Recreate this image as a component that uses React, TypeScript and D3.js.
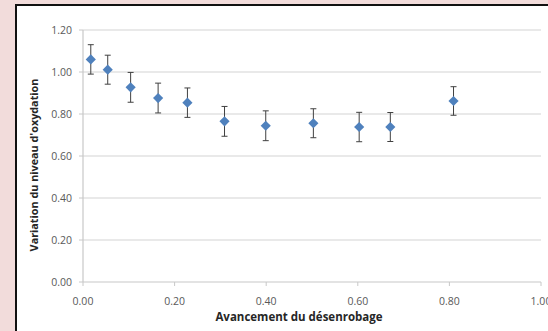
import React from "react";
import * as d3 from "d3";

const xValues = [0.017, 0.054, 0.104, 0.164, 0.228, 0.309, 0.399, 0.503, 0.603, 0.671, 0.809];
const yValues = [1.06, 1.011, 0.927, 0.876, 0.854, 0.765, 0.744, 0.756, 0.738, 0.738, 0.862];
const errValues = [0.07, 0.069, 0.071, 0.071, 0.07, 0.071, 0.071, 0.069, 0.07, 0.069, 0.068];
const xTicks = [0, 0.2, 0.4, 0.6, 0.8, 1.0];
const yTicks = [0, 0.2, 0.4, 0.6, 0.8, 1.0, 1.2];
const xTitle = "Avancement du désenrobage";
const yTitle = "Variation du niveau d'oxydation";

const W = 548;
const H = 331;

export default function App() {
  const x = d3.scaleLinear().domain([0, 1]).range([83, 541]);
  const y = d3.scaleLinear().domain([0, 1.2]).range([282, 30]);
  const fmt = d3.format(".2f");
  const diamond = d3.symbol().type(d3.symbolDiamond2).size(66);
  const tickFont = "'Open Sans', sans-serif";
  return (
    <div style={{ position: "absolute", left: 0, top: 0 }}>
      <svg width={W} height={H} style={{ display: "block" }}>
        <rect x={0} y={0} width={W} height={H} fill="#f2dcdb" />
        <rect x={16} y={5} width={W - 16} height={H - 5} fill="#ffffff" />
        <line x1={16} x2={16} y1={4} y2={H} stroke="#111" strokeWidth={2} />
        <line x1={15} x2={W} y1={5} y2={5} stroke="#111" strokeWidth={2} />
        {yTicks.filter((t) => t > 0).map((t) => (
          <line key={"g" + t} x1={x(0)} x2={x(1)} y1={y(t)} y2={y(t)} stroke="#d3d3d3" strokeWidth={1.2} />
        ))}
        <line x1={x(0)} x2={x(1)} y1={y(0)} y2={y(0)} stroke="#c8c8c8" strokeWidth={1.2} />
        <line x1={x(0)} x2={x(0)} y1={y(1.2)} y2={y(0)} stroke="#c8c8c8" strokeWidth={1.2} />
        {yTicks.map((t) => (
          <g key={"yt" + t}>
            <line x1={x(0) - 4} x2={x(0)} y1={y(t)} y2={y(t)} stroke="#c8c8c8" />
            <text x={72} y={y(t)} dy="0.35em" textAnchor="end" fontSize={10.5} fill="#595959" fontFamily={tickFont}>
              {fmt(t)}
            </text>
          </g>
        ))}
        {xTicks.map((t) => (
          <g key={"xt" + t}>
            <line x1={x(t)} x2={x(t)} y1={y(0)} y2={y(0) + 4} stroke="#c8c8c8" />
            <text x={x(t)} y={301} dy="0.35em" textAnchor="middle" fontSize={10.5} fill="#595959" fontFamily={tickFont}>
              {fmt(t)}
            </text>
          </g>
        ))}
        <text x={299} y={317} dy="0.35em" textAnchor="middle" fontSize={11.5} fontWeight="bold" fill="#262626" fontFamily="'Open Sans', sans-serif">
          {xTitle}
        </text>
        <text
          transform={`translate(34, 165) rotate(-90)`}
          dy="0.35em"
          textAnchor="middle"
          fontSize={10.8}
          fontWeight="bold"
          fill="#262626"
          fontFamily="'Open Sans', sans-serif"
        >
          {yTitle}
        </text>
        {xValues.map((xv, i) => {
          const cx = x(xv);
          const top = y(yValues[i] + errValues[i]);
          const bot = y(yValues[i] - errValues[i]);
          return (
            <g key={"e" + i} stroke="#404040" strokeWidth={1}>
              <line x1={cx} x2={cx} y1={top} y2={bot} />
              <line x1={cx - 3} x2={cx + 3} y1={top} y2={top} />
              <line x1={cx - 3} x2={cx + 3} y1={bot} y2={bot} />
            </g>
          );
        })}
        {xValues.map((xv, i) => (
          <path key={"p" + i} d={diamond() as string} transform={`translate(${x(xv)},${y(yValues[i])})`} fill="#4f81bd" />
        ))}
      </svg>
    </div>
  );
}
